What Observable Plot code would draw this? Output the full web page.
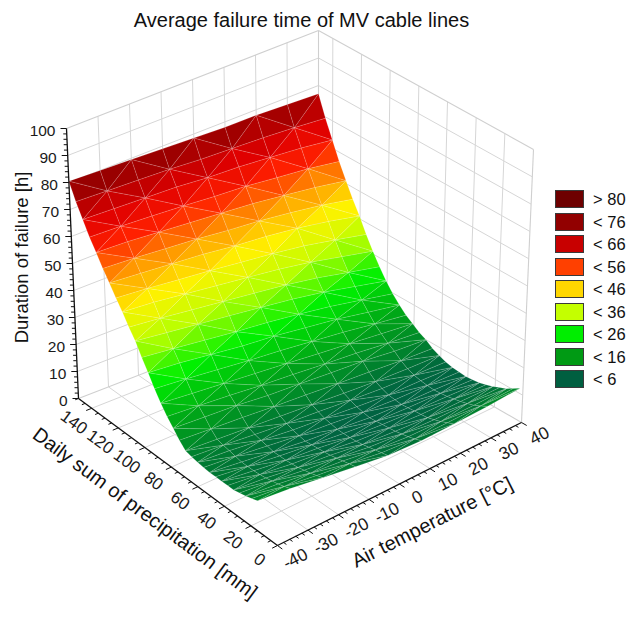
<!DOCTYPE html>
<html><head><meta charset="utf-8">
<script src="https://cdn.jsdelivr.net/npm/d3@7"></script>
<script src="https://cdn.jsdelivr.net/npm/@observablehq/plot@0.6"></script>
<style>
body{margin:0;background:#fff;font-family:"Liberation Sans",Arial,sans-serif;}
#wrap{position:relative;width:642px;height:622px;overflow:hidden;}
#wrap svg{position:absolute;left:0;top:0;}
#legend{position:absolute;left:555px;top:188px;}
.item{display:flex;align-items:center;height:22.5px;}
.sw{width:29px;height:18px;border:1px solid #3a3a3a;box-sizing:border-box;margin-right:9px;}
.lab{font-size:16.5px;color:#111;line-height:18px;}
</style></head><body><div id="wrap"></div>
<script>
// ---------------- data ----------------
const title = "Average failure time of MV cable lines";
const zTitle = "Duration of failure [h]";
const pTitle = "Daily sum of precipitation [mm]";
const tTitle = "Air temperature [°C]";

const pDomain = [0, 150];      // daily sum of precipitation [mm]
const tDomain = [-40, 40];     // air temperature [°C]
const zDomain = [0, 100];      // duration of failure [h]

const pTicks = [0, 20, 40, 60, 80, 100, 120, 140];
const tTicks = [-40, -30, -20, -10, 0, 10, 20, 30, 40];
const zTicks = [0, 10, 20, 30, 40, 50, 60, 70, 80, 90, 100];

// surface columns (temperature) and the start of the fitted precipitation range per column
const tempValues = [-40, -30, -20, -10, 0, 10, 20, 30, 40];
const precipStart = [15, 13.5, 12, 10.5, 9, 7, 5.5, 3.5, 2];
const precipEnd = 150;
// fitted duration [h]; rows go from precipStart (row 0) to precipEnd (last row) in equal steps
const durationRows = [
  [11, 10.5, 9.5, 8.5, 7.5, 8, 9, 10.5, 12],
  [10.2, 9.7, 8.7, 8, 7, 7.2, 8, 9.2, 10.5],
  [9.5, 9, 8, 7.5, 6.5, 6.5, 7, 8, 9],
  [9, 8.5, 7.5, 7, 6, 6, 6.2, 7.2, 8],
  [8.5, 8, 7, 6.5, 5.5, 5.5, 5.5, 6.5, 7],
  [8.5, 7.7, 6.7, 6.2, 5.2, 5.2, 5.2, 6, 6.2],
  [8.5, 7.5, 6.5, 6, 5, 5, 5, 5.5, 5.5],
  [8.5, 7.5, 6.5, 5.7, 5, 4.7, 4.7, 5.2, 5.2],
  [8.5, 7.5, 6.5, 5.5, 5, 4.5, 4.5, 5, 5],
  [8.7, 8, 7, 6, 5.5, 5, 4.7, 5.2, 5.2],
  [9, 8.5, 7.5, 6.5, 6, 5.5, 5, 5.5, 5.5],
  [9.4, 8.9, 8.1, 7.4, 6.9, 6.4, 5.9, 6.1, 6.1],
  [10, 9.5, 9, 8.5, 8, 7.5, 7, 7, 7],
  [12.2, 11.7, 11.2, 10.5, 10, 9.5, 9, 8.5, 8.2],
  [15, 14.5, 14, 13, 12.5, 12, 11.5, 10.5, 10],
  [17.7, 17, 16.2, 15.2, 14.5, 13.7, 13, 12, 11.2],
  [21, 20, 19, 18, 17, 16, 15, 14, 13],
  [24.7, 23.7, 22.5, 21.2, 20.2, 19, 17.7, 16.2, 14.7],
  [29, 28, 26.5, 25, 24, 22.5, 21, 19, 17],
  [33, 31.7, 30.2, 28.7, 27.5, 26, 24.2, 22, 19.7],
  [37.5, 36, 34.5, 33, 31.5, 30, 28, 25.5, 23],
  [41, 39.7, 38.2, 36.7, 35.2, 33.7, 31.7, 29.2, 26.7],
  [45, 44, 42.5, 41, 39.5, 38, 36, 33.5, 31],
  [48.5, 47.5, 46.2, 45, 43.5, 42.2, 40.5, 38.2, 35.7],
  [52.5, 51.5, 50.5, 49.5, 48, 47, 45.5, 43.5, 41],
  [56.2, 55.5, 54.5, 53.5, 52.2, 51.2, 49.7, 48, 45.7],
  [60.5, 60, 59, 58, 57, 56, 54.5, 53, 51],
  [64.6, 64.1, 63.4, 62.6, 61.6, 60.9, 59.6, 58.4, 56.6],
  [69.5, 69, 68.5, 68, 67, 66.5, 65.5, 64.5, 63],
  [74.5, 74, 73.5, 73, 72.2, 71.7, 71.2, 70.5, 69.5],
  [80.5, 80, 79.5, 79, 78.5, 78, 78, 77.5, 77]
];

const legendLabels = ["> 80", "< 76", "< 66", "< 56", "< 46", "< 36", "< 26", "< 16", "< 6"];
const legendColors = ["#6E0000", "#920000", "#C80000", "#FF4000", "#FFD700", "#C4FF00", "#00EE00", "#009A14", "#005F40"];

const colorStops = [0, 5, 8, 11, 15, 20, 26, 36, 45, 53, 61, 68, 76, 82];
const colorRange = ["#005A44", "#006442", "#007634", "#008C28", "#00A01A", "#00C40C", "#00F000", "#B8FF00", "#FFF200", "#FF9A00", "#FF2000", "#E00000", "#A00000", "#880000"];

// ---------------- 3D frame (screen position of the 8 box corners, bits = P,T,Z at max) ----------------
const frame = {
  c000: [277, 545], c100: [78, 398], c010: [521, 422], c110: [318, 305],
  c001: [279, 272], c101: [66, 128], c011: [533, 149], c111: [318, 30]
};
function project(p, t, z) {
  const u = (p - pDomain[0]) / (pDomain[1] - pDomain[0]);
  const v = (t - tDomain[0]) / (tDomain[1] - tDomain[0]);
  const w = (z - zDomain[0]) / (zDomain[1] - zDomain[0]);
  let x = 0, y = 0;
  for (const a of [0, 1]) for (const b of [0, 1]) for (const c of [0, 1]) {
    const k = (a ? u : 1 - u) * (b ? v : 1 - v) * (c ? w : 1 - w);
    const q = frame["c" + a + b + c];
    x += k * q[0]; y += k * q[1];
  }
  return [x, y];
}
function seg(a, b) {
  const [x1, y1] = project(...a), [x2, y2] = project(...b);
  return {x1, y1, x2, y2};
}
function unit(a, b) {
  const dx = b[0] - a[0], dy = b[1] - a[1], l = Math.hypot(dx, dy);
  return [dx / l, dy / l];
}

// ---------------- grid lines on walls and floor ----------------
const [P0, P1] = pDomain, [T0, T1] = tDomain, [Z0, Z1] = zDomain;
const grid = [];
for (const t of tTicks.slice(1, -1)) grid.push(seg([P1, t, Z0], [P1, t, Z1]));
for (const z of zTicks.slice(1, -1)) grid.push(seg([P1, T0, z], [P1, T1, z]));
for (const p of pTicks.slice(1)) grid.push(seg([p, T1, Z0], [p, T1, Z1]));
for (const z of zTicks.slice(1, -1)) grid.push(seg([P0, T1, z], [P1, T1, z]));
for (const p of pTicks.slice(1)) grid.push(seg([p, T0, Z0], [p, T1, Z0]));
for (const t of tTicks.slice(1, -1)) grid.push(seg([P0, t, Z0], [P1, t, Z0]));
const edges = [
  seg([P1, T0, Z1], [P1, T1, Z1]), seg([P1, T1, Z1], [P0, T1, Z1]),
  seg([P1, T1, Z0], [P1, T1, Z1]), seg([P0, T1, Z0], [P0, T1, Z1]),
  seg([P1, T0, Z0], [P1, T1, Z0]), seg([P0, T1, Z0], [P1, T1, Z0])
];
const zAxisLine = [seg([P1, T0, Z0], [P1, T0, Z1])];
const floorAxes = [seg([P0, T0, Z0], [P1, T0, Z0]), seg([P0, T0, Z0], [P0, T1, Z0])];

// ---------------- surface triangles ----------------
const nR = durationRows.length, nC = tempValues.length;
const nodeP = (i, j) => precipStart[j] + (precipEnd - precipStart[j]) * i / (nR - 1);
const tris = [];
for (let i = 0; i < nR - 1; i++) for (let j = 0; j < nC - 1; j++) {
  const a = [i, j], b = [i + 1, j], c = [i + 1, j + 1], d = [i, j + 1];
  const parts = (i + j) % 2 === 0 ? [[a, b, c], [a, c, d]] : [[a, b, d], [b, c, d]];
  for (const tri of parts) {
    const verts = tri.map(([ii, jj]) => ({p: nodeP(ii, jj), t: tempValues[jj], z: durationRows[ii][jj]}));
    const value = d3.mean(verts, v => v.z);
    const depth = d3.mean(verts, v => (v.p - P0) / (P1 - P0) + (v.t - T0) / (T1 - T0));
    tris.push({verts, value, depth});
  }
}
tris.sort((A, B) => B.depth - A.depth);
const surfacePts = [];
tris.forEach((tr, k) => {
  for (const v of [...tr.verts, tr.verts[0]]) {
    const [x, y] = project(v.p, v.t, v.z);
    surfacePts.push({id: k, x, y, value: tr.value});
  }
});

// ---------------- ticks & labels ----------------
const zTickMarks = [], floorTickMarks = [];
for (let z = Z0; z <= Z1; z += 2) {
  const [x, y] = project(P1, T0, z); const major = z % 10 === 0;
  zTickMarks.push({x1: x, y1: y, x2: x - (major ? 6 : 3.5), y2: y});
}
const zLab = zTicks.map(z => { const [x, y] = project(P1, T0, z); return {x: x - 11, y: y + 3, text: String(z)}; });
const pDir = unit(project(P1, T0, Z0), project(P0, T0, Z0));
const pNorm = [-pDir[1], pDir[0]];
const pAngle = Math.atan2(pDir[1], pDir[0]) * 180 / Math.PI;
for (let p = P0; p <= P1; p += 5) {
  const [x, y] = project(p, T0, Z0); const o = unit(project(p, T1, Z0), project(p, T0, Z0));
  const L = p % 20 === 0 ? 6 : 3.5;
  floorTickMarks.push({x1: x, y1: y, x2: x + o[0] * L, y2: y + o[1] * L});
}
const pLab = pTicks.map(p => { const [x, y] = project(p, T0, Z0);
  return {x: x + pNorm[0] * 22 - pDir[0] * 6, y: y + pNorm[1] * 22 - pDir[1] * 6, text: String(p)}; });
const tDir = unit(project(P0, T0, Z0), project(P0, T1, Z0));
const tNorm = [-tDir[1], tDir[0]];
const tAngle = Math.atan2(tDir[1], tDir[0]) * 180 / Math.PI;
for (let t = T0; t <= T1; t += 2) {
  const [x, y] = project(P0, t, Z0); const o = unit(project(P1, t, Z0), project(P0, t, Z0));
  const L = t % 10 === 0 ? 6 : 3.5;
  floorTickMarks.push({x1: x, y1: y, x2: x + o[0] * L, y2: y + o[1] * L});
}
const tLab = tTicks.map(t => { const [x, y] = project(P0, t, Z0);
  return {x: x + tNorm[0] * 20 + tDir[0] * 10, y: y + tNorm[1] * 20 + tDir[1] * 10, text: String(t)}; });
const pMid = project((P0 + P1) / 2, T0, Z0), tMid = project(P0, (T0 + T1) / 2, Z0), zMid = project(P1, T0, (Z0 + Z1) / 2);
const pT = [{x: pMid[0] + pNorm[0] * 53 - pDir[0] * 2, y: pMid[1] + pNorm[1] * 53 - pDir[1] * 2, text: pTitle}];
const tT = [{x: tMid[0] + tNorm[0] * 49 + tDir[0] * 12, y: tMid[1] + tNorm[1] * 49 + tDir[1] * 12, text: tTitle}];
const zT = [{x: zMid[0] - 50, y: zMid[1] - 6, text: zTitle}];

const font = "'Liberation Sans', Arial, sans-serif";
const L = (data, o) => Plot.link(data, {x1: "x1", y1: "y1", x2: "x2", y2: "y2", ...o});
const chart = Plot.plot({
  width: 642, height: 622, margin: 0,
  x: {domain: [0, 642], range: [0, 642], axis: null},
  y: {domain: [0, 622], range: [0, 622], axis: null},
  color: {type: "linear", domain: colorStops, range: colorRange, interpolate: "rgb", clamp: true},
  style: {fontFamily: font, background: "#fff", color: "#111"},
  marks: [
    L(grid, {stroke: "#d6d6d6", strokeWidth: 1}),
    L(edges, {stroke: "#cfcfcf", strokeWidth: 1.1}),
    L(floorAxes, {stroke: "#111", strokeWidth: 1.3}),
    L(floorTickMarks, {stroke: "#111", strokeWidth: 1}),
    Plot.line(surfacePts, {x: "x", y: "y", z: "id", fill: "value", stroke: "#ffffff", strokeOpacity: 0.28, strokeWidth: 0.5, curve: "linear"}),
    L(zAxisLine, {stroke: "#111", strokeWidth: 1.3}),
    L(zTickMarks, {stroke: "#111", strokeWidth: 1}),
    Plot.text(zLab, {x: "x", y: "y", text: "text", textAnchor: "end", fontSize: 15.5, fill: "#1a1a1a"}),
    Plot.text(pLab, {x: "x", y: "y", text: "text", rotate: pAngle, fontSize: 17, fill: "#1a1a1a"}),
    Plot.text(tLab, {x: "x", y: "y", text: "text", rotate: tAngle, fontSize: 17.5, fill: "#1a1a1a"}),
    Plot.text(pT, {x: "x", y: "y", text: "text", rotate: pAngle, fontSize: 20, fill: "#111"}),
    Plot.text(tT, {x: "x", y: "y", text: "text", rotate: tAngle, fontSize: 20, fill: "#111"}),
    Plot.text(zT, {x: "x", y: "y", text: "text", rotate: -90, fontSize: 18.5, fill: "#111"}),
    Plot.text([title], {frameAnchor: "top", dx: -20, dy: 20, lineAnchor: "middle", fontSize: 20, fill: "#111"})
  ]
});
const wrap = document.getElementById("wrap");
wrap.appendChild(chart);
const legend = document.createElement("div");
legend.id = "legend";
legendLabels.forEach((l, i) => {
  const it = document.createElement("div"); it.className = "item";
  const sw = document.createElement("div"); sw.className = "sw"; sw.style.background = legendColors[i];
  const lb = document.createElement("div"); lb.className = "lab"; lb.textContent = l;
  it.appendChild(sw); it.appendChild(lb); legend.appendChild(it);
});
wrap.appendChild(legend);
</script></body></html>
